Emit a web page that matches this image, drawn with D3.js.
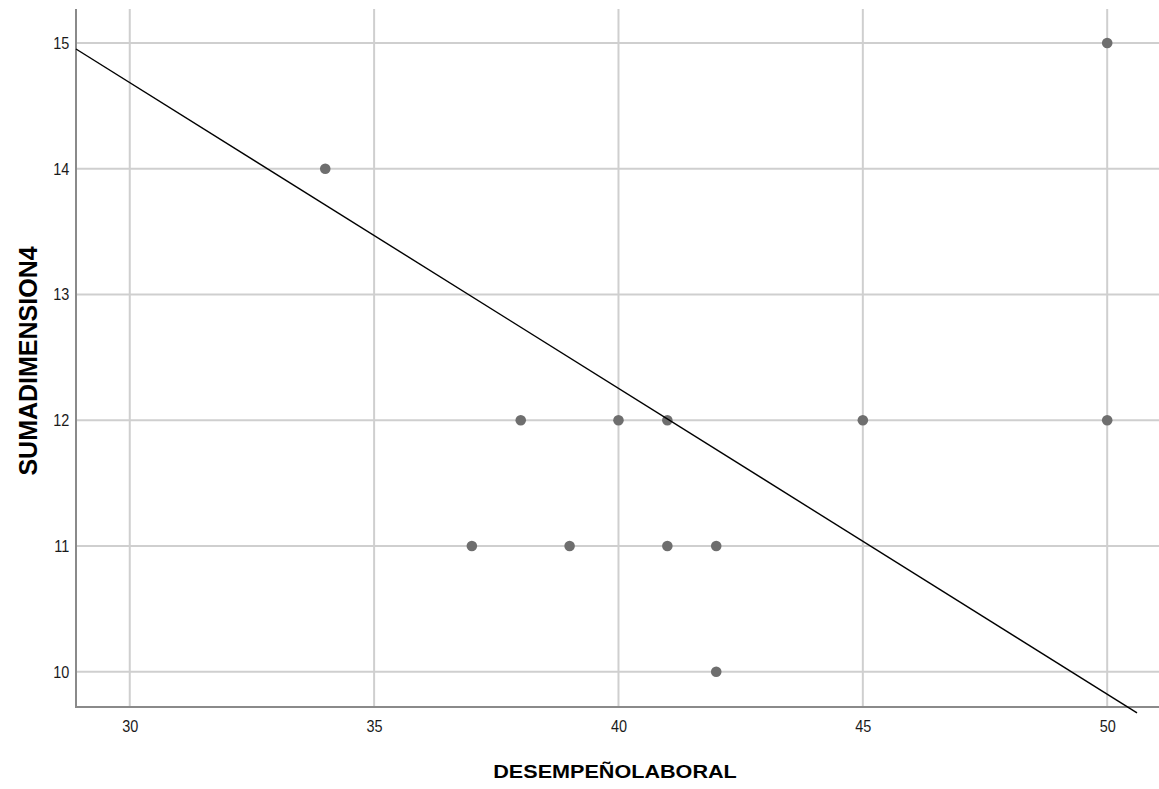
<!DOCTYPE html>
<html>
<head>
<meta charset="utf-8">
<script src="https://cdn.jsdelivr.net/npm/d3@7"></script>
<style>
  body { margin: 0; background: #fff; }
  text { font-family: "Liberation Sans", Arial, sans-serif; }
</style>
</head>
<body>
<div id="chart"></div>
<script>
// observed points (DESEMPEÑOLABORAL, SUMADIMENSION4)
const xValues = [34, 38, 40, 41, 45, 50, 50, 37, 39, 41, 42, 42];
const yValues = [14, 12, 12, 12, 12, 12, 15, 11, 11, 11, 11, 10];
// reference line end points
const lineX = [28.9, 50.61];
const lineY = [14.952, 9.674];
const xTicks = [30, 35, 40, 45, 50];
const yTicks = [10, 11, 12, 13, 14, 15];

const points = xValues.map((v, i) => ({ x: v, y: yValues[i] }));
const fit = lineX.map((v, i) => ({ x: v, y: lineY[i] }));

const W = 1159, H = 789;
const plotLeft = 76, plotRight = 1159, plotTop = 9, plotBottom = 707;

const svg = d3.select("#chart").append("svg")
  .attr("width", W)
  .attr("height", H);

const x = d3.scaleLinear().domain([28.9, 51.06]).range([plotLeft, plotRight]);
const y = d3.scaleLinear().domain([9.72, 15.27]).range([plotBottom, plotTop]);

// grid
svg.append("g")
  .selectAll("line")
  .data(xTicks)
  .enter().append("line")
  .attr("x1", d => x(d)).attr("x2", d => x(d))
  .attr("y1", plotTop).attr("y2", plotBottom)
  .attr("stroke", "#cfcfcf").attr("stroke-width", 2);

svg.append("g")
  .selectAll("line")
  .data(yTicks)
  .enter().append("line")
  .attr("x1", plotLeft).attr("x2", plotRight)
  .attr("y1", d => y(d)).attr("y2", d => y(d))
  .attr("stroke", "#cfcfcf").attr("stroke-width", 2);

// axes
const xAxis = svg.append("g")
  .attr("transform", `translate(0,${plotBottom})`)
  .call(d3.axisBottom(x).tickValues(xTicks).tickFormat(d3.format("d")).tickSize(0).tickPadding(13));
const yAxis = svg.append("g")
  .attr("transform", `translate(${plotLeft},0)`)
  .call(d3.axisLeft(y).tickValues(yTicks).tickFormat(d3.format("d")).tickSize(0).tickPadding(8));

[xAxis, yAxis].forEach(a => {
  a.attr("font-size", null).attr("font-family", null);
  a.select(".domain").remove();
  a.selectAll("text")
    .style("font-size", "17px")
    .attr("fill", "#1a1a1a")
    .attr("transform", "scale(0.85,1)");
});

svg.append("line")
  .attr("x1", plotLeft).attr("x2", plotRight)
  .attr("y1", plotBottom).attr("y2", plotBottom)
  .attr("stroke", "#8a8a8a").attr("stroke-width", 2);
svg.append("line")
  .attr("x1", plotLeft).attr("x2", plotLeft)
  .attr("y1", plotTop).attr("y2", plotBottom + 1)
  .attr("stroke", "#8a8a8a").attr("stroke-width", 2);

// points
svg.append("g")
  .selectAll("circle")
  .data(points)
  .enter().append("circle")
  .attr("cx", d => x(d.x))
  .attr("cy", d => y(d.y))
  .attr("r", 5.3)
  .attr("fill", "#6e6e6e");

// line
const line = d3.line().x(d => x(d.x)).y(d => y(d.y));
svg.append("path")
  .attr("d", line(fit))
  .attr("fill", "none")
  .attr("stroke", "#000")
  .attr("stroke-width", 1.4);

// titles
svg.append("text")
  .attr("transform", "translate(615,778) scale(1.2,1)")
  .attr("text-anchor", "middle")
  .style("font-size", "18px")
  .attr("font-weight", "bold")
  .text("DESEMPEÑOLABORAL");

svg.append("text")
  .attr("transform", "translate(37,361) rotate(-90)")
  .attr("text-anchor", "middle")
  .style("font-size", "25px")
  .attr("font-weight", "bold")
  .text("SUMADIMENSION4");
</script>
</body>
</html>
